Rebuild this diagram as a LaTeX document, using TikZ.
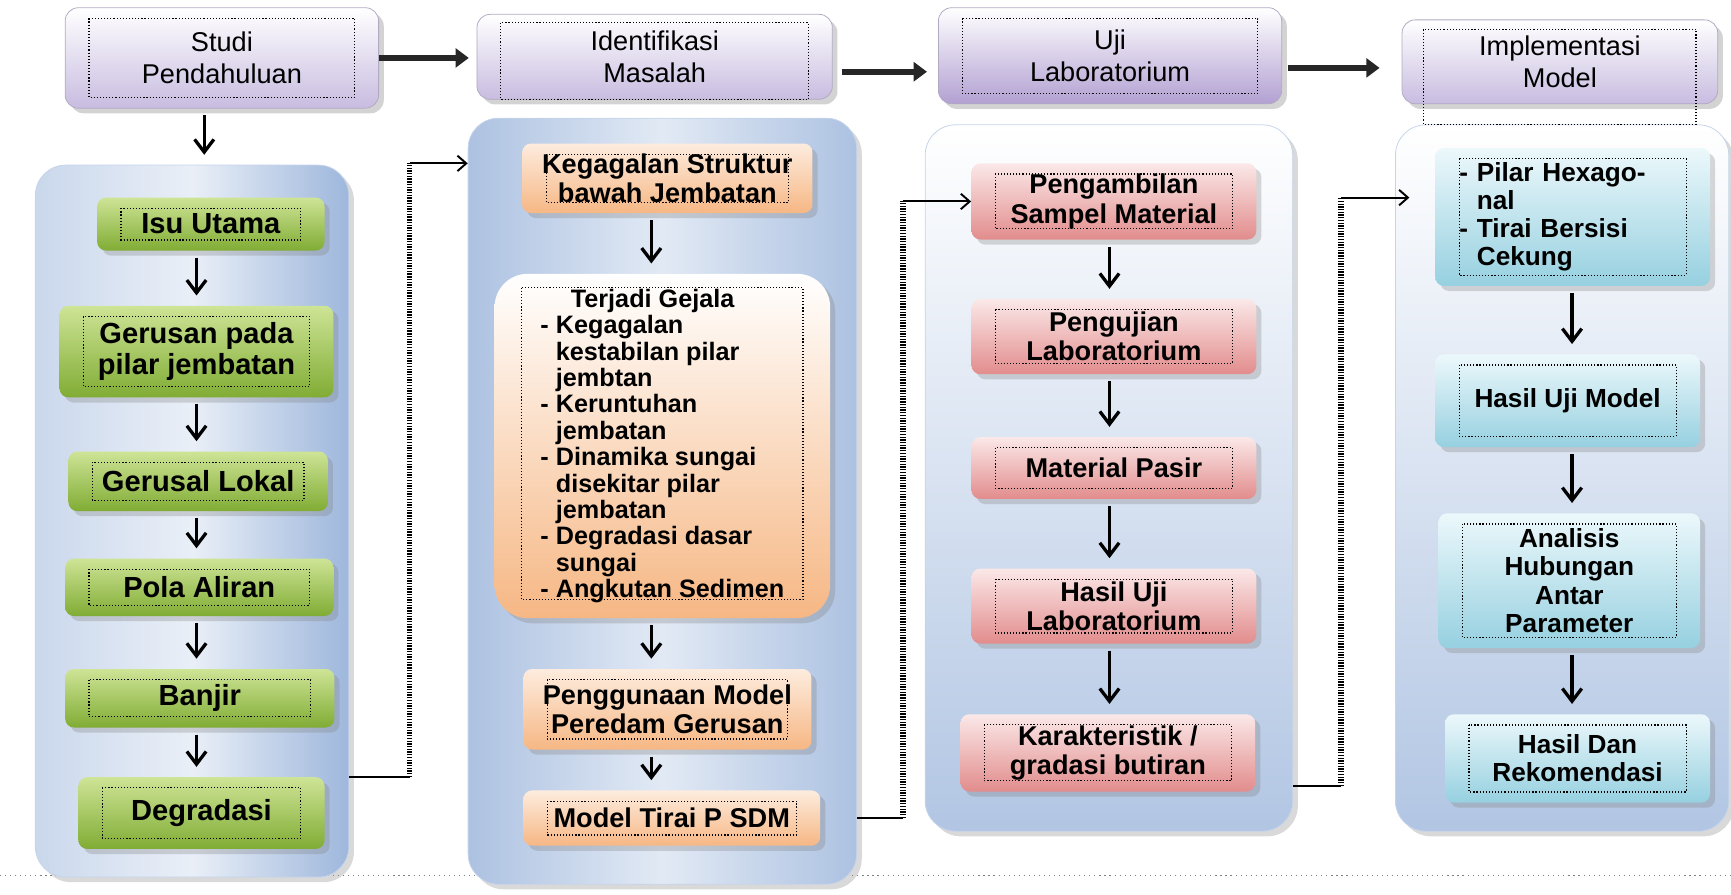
\documentclass[tikz,border=0pt]{standalone}
\usepackage{fontspec}
\setmainfont{Liberation Sans}
\usetikzlibrary{arrows.meta,shadows,calc}
\definecolor{hdrlilac}{RGB}{200,188,224}
\definecolor{hdrdeep}{RGB}{178,160,210}
\definecolor{panelblue}{RGB}{158,183,220}
\definecolor{leaftop}{RGB}{206,228,150}
\definecolor{leafbot}{RGB}{128,172,52}
\definecolor{peachtop}{RGB}{253,236,222}
\definecolor{peachbot}{RGB}{246,183,132}
\definecolor{rosetop}{RGB}{251,232,232}
\definecolor{rosebot}{RGB}{226,140,140}
\definecolor{aquatop}{RGB}{236,248,251}
\definecolor{aquabot}{RGB}{150,208,224}

\begin{document}
\begin{tikzpicture}[x=0.02cm, y=-0.02cm,
  hdr/.style = {rounded corners=0.24cm, draw=hdrlilac!70!gray,
    top color=white, bottom color=hdrlilac, drop shadow={opacity=0.35},
    align=center, inner sep=2pt, font=\fontsize{14}{16.5}\selectfont},
  panel/.style = {rounded corners=0.55cm, draw=panelblue!60!white,
    drop shadow={opacity=0.3}},
  box/.style = {rounded corners=0.16cm, align=center, inner sep=2pt,
    drop shadow={opacity=0.3}, font=\bfseries\fontsize{14}{15}\selectfont},
  leaf/.style = {box, top color=leaftop, bottom color=leafbot,
    font=\bfseries\fontsize{15}{16}\selectfont},
  peach/.style = {box, top color=peachtop, bottom color=peachbot},
  rose/.style = {box, top color=rosetop, bottom color=rosebot},
  aqua/.style = {box, top color=aquatop, bottom color=aquabot,
    font=\bfseries\fontsize{13.5}{14.5}\selectfont}]
    \tikzstyle{frame}=[densely dotted, line width=0.6pt]
    \tikzstyle{down}=[line width=1.7pt, -{Straight Barb[length=2.3mm,width=3.5mm]},
      shorten <=0.12cm, shorten >=0.18cm]
    \tikzstyle{big}=[line width=3pt, draw=black!85, -{Triangle[length=2.4mm,width=3.4mm]}]
    \tikzstyle{link}=[line width=1pt, -{Straight Barb[length=1.6mm,width=2.8mm]}]
    \tikzstyle{wire}=[line width=1pt]
    \tikzstyle{dots}=[line width=3pt, dash pattern=on 0.7pt off 0.7pt]
  \useasboundingbox (0,0) rectangle (1568,810);
  \draw[gray, dotted, line width=0.6pt] (0,793) -- (1568,793);

  \node[panel, left color=panelblue!55, right color=panelblue, middle color=panelblue!22,
    minimum width=5.68cm, minimum height=12.9cm] (col1) at (174,472) {};
  \node[panel, left color=panelblue!85, right color=panelblue!85, middle color=panelblue!30,
    minimum width=7.04cm, minimum height=13.88cm] (col2) at (600,454) {};
  \node[panel, top color=white, bottom color=panelblue!80,
    minimum width=6.66cm, minimum height=12.8cm] (col3) at (1004.5,433) {};
  \node[panel, top color=white, bottom color=panelblue!80,
    minimum width=6.04cm, minimum height=12.8cm] (col4) at (1415,433) {};

  \node[hdr, minimum width=5.68cm, minimum height=1.82cm] (studi) at (201,52.5) {Studi\\Pendahuluan};
  \node[hdr, minimum width=6.44cm, minimum height=1.54cm] (ident) at (593,51.5) {Identifikasi\\Masalah};
  \node[hdr, bottom color=hdrdeep, minimum width=6.22cm, minimum height=1.74cm] (uji) at (1005.5,50.5) {Uji\\Laboratorium};
  \node[hdr, minimum width=5.72cm, minimum height=1.52cm] (impl) at (1413,56) {Implementasi\\Model};

  \node[leaf, minimum width=4.12cm, minimum height=0.96cm] (isu) at (191,203) {Isu Utama};
  \node[leaf, minimum width=4.96cm, minimum height=1.66cm] (gerus) at (178,318.5) {Gerusan pada\\pilar jembatan};
  \node[leaf, minimum width=4.7cm, minimum height=1.08cm] (lokal) at (179.5,436) {Gerusal Lokal};
  \node[leaf, minimum width=4.86cm, minimum height=1.04cm] (pola) at (180.5,532) {Pola Aliran};
  \node[leaf, minimum width=4.88cm, minimum height=1.06cm] (banjir) at (181,632.5) {Banjir};
  \node[leaf, minimum width=4.46cm, minimum height=1.3cm] (degr) at (182.5,736.5) {Degradasi};

  \node[peach, minimum width=5.26cm, minimum height=1.26cm] (kegag) at (604.5,161.5) {Kegagalan Struktur\\bawah Jembatan};
  \node[peach, top color=white, rounded corners=0.6cm, minimum width=6.08cm, minimum height=6.24cm,
    align=left, font=\bfseries\fontsize{13}{13.6}\selectfont] (gejala) at (600,404)
    {\hspace*{0.55cm}Terjadi Gejala\\- Kegagalan\\\hphantom{- }kestabilan pilar\\\hphantom{- }jembtan\\
     - Keruntuhan\\\hphantom{- }jembatan\\- Dinamika sungai\\\hphantom{- }disekitar pilar\\
     \hphantom{- }jembatan\\- Degradasi dasar\\\hphantom{- }sungai\\- Angkutan Sedimen};
  \node[peach, minimum width=5.22cm, minimum height=1.46cm] (pengg) at (604.5,642.5) {Penggunaan Model\\Peredam Gerusan};
  \node[peach, minimum width=5.38cm, minimum height=1cm] (tirai) at (608.5,741) {Model Tirai P SDM};

  \node[rose, minimum width=5.16cm, minimum height=1.38cm] (ambil) at (1009,182.5) {Pengambilan\\Sampel Material};
  \node[rose, minimum width=5.16cm, minimum height=1.36cm] (penguji) at (1009,305) {Pengujian\\Laboratorium};
  \node[rose, minimum width=5.16cm, minimum height=1.12cm] (pasir) at (1009,424) {Material Pasir};
  \node[rose, minimum width=5.16cm, minimum height=1.36cm] (hasillab) at (1009,549) {Hasil Uji\\Laboratorium};
  \node[rose, minimum width=5.34cm, minimum height=1.4cm] (karak) at (1003.5,682) {Karakteristik /\\gradasi butiran};

  \node[aqua, text width=4.1cm, align=left, minimum width=4.98cm, minimum height=2.5cm] (pilar) at (1424.5,196.5)
    {- Pilar Hexago-\\\hphantom{- }nal\\- Tirai Bersisi\\\hphantom{- }Cekung};
  \node[aqua, minimum width=4.8cm, minimum height=1.68cm] (hasilmodel) at (1420,363) {Hasil Uji Model};
  \node[aqua, minimum width=4.74cm, minimum height=2.44cm] (analisis) at (1421.5,526) {Analisis\\Hubungan\\Antar\\Parameter};
  \node[aqua, minimum width=4.8cm, minimum height=1.6cm] (rekom) at (1429,687) {Hasil Dan\\Rekomendasi};

  \foreach \n in {studi,uji,isu,gerus,lokal,pola,banjir,degr,kegag,pengg,tirai,
      ambil,penguji,pasir,hasillab,karak,pilar,hasilmodel,analisis,rekom}
    \draw[frame] ([shift={(0.44cm,-0.2cm)}]\n.north west) rectangle ([shift={(-0.44cm,0.2cm)}]\n.south east);
  \draw[frame] ([shift={(0.44cm,-0.16cm)}]ident.north west) rectangle ([xshift=-0.44cm]ident.south east);
  \draw[frame] ([shift={(0.4cm,-0.18cm)}]impl.north west) rectangle ($(impl.east |- col4.north)+(-0.4cm,0)$);
  \draw[frame] ([shift={(0.5cm,-0.26cm)}]gejala.north west) rectangle ([shift={(-0.5cm,0.34cm)}]gejala.south east);

  \coordinate (ax0) at (185,0);
  \coordinate (ax1) at (178,0);
  \coordinate (ax2) at (590,0);
  \coordinate (ax3) at (1005,0);
  \coordinate (ax4) at (1424,0);
  \draw[down] (studi.south -| ax0) -- (col1.north -| ax0);
  \foreach \a/\b in {isu/gerus,gerus/lokal,lokal/pola,pola/banjir,banjir/degr}
    \draw[down] (\a.south -| ax1) -- (\b.north -| ax1);
  \foreach \a/\b in {kegag/gejala,gejala/pengg,pengg/tirai}
    \draw[down] (\a.south -| ax2) -- (\b.north -| ax2);
  \foreach \a/\b in {ambil/penguji,penguji/pasir,pasir/hasillab,hasillab/karak}
    \draw[down] (\a.south -| ax3) -- (\b.north -| ax3);
  \foreach \a/\b in {pilar/hasilmodel,hasilmodel/analisis,analisis/rekom}
    \draw[down] (\a.south -| ax4) -- (\b.north -| ax4);

  \coordinate (h2) at ($(ident.east)+(0.16cm,-0.27cm)$);
  \coordinate (h3) at ($(uji.east)+(0.1cm,-0.22cm)$);
  \draw[big, shorten >=0.14cm] (studi.east) -- (studi.east -| ident.west);
  \draw[big, shorten >=0.2cm] (h2) -- (h2 -| uji.west);
  \draw[big, shorten >=0.4cm] (h3) -- (h3 -| impl.west);

  \coordinate (j1) at (371,704);
  \coordinate (j2) at (371,148);
  \coordinate (j3) at (818,741);
  \coordinate (j4) at (818,182.5);
  \coordinate (j5) at (1215,712);
  \coordinate (j6) at (1215,179);
  \draw[wire] (col1.east |- j1) -- (j1);
  \draw[dots] (j1) -- (j2);
  \draw[link] (j2) -- (col2.west |- j2);
  \draw[wire] (col2.east |- j3) -- (j3);
  \draw[dots] (j3) -- (j4);
  \draw[link] (j4) -- (ambil.west);
  \draw[wire] (col3.east |- j5) -- (j5);
  \draw[dots] (j5) -- (j6);
  \draw[link, shorten >=-0.26cm] (j6) -- (j6 -| col4.west);
\end{tikzpicture}
\end{document}
